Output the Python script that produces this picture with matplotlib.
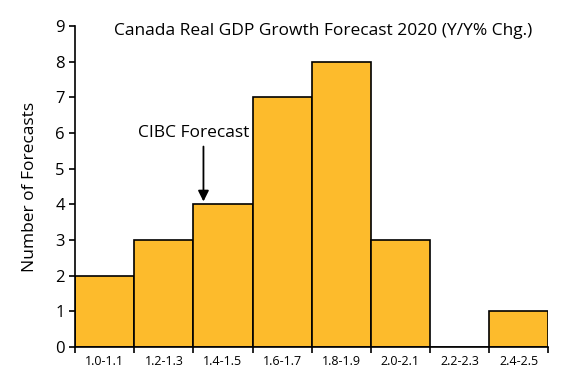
import numpy as np
import matplotlib.pyplot as plt

categories = ['1.0-1.1', '1.2-1.3', '1.4-1.5', '1.6-1.7', '1.8-1.9', '2.0-2.1', '2.2-2.3', '2.4-2.5']
counts = [2, 3, 4, 7, 8, 3, 0, 1]

plt.rcParams['font.family'] = ['Open Sans', 'DejaVu Sans']

fig = plt.figure(figsize=(5.61, 3.73), dpi=100)
ax = fig.add_axes([0.134, 0.0697, 0.843, 0.8606])

x = np.arange(len(categories))
ax.bar(x, counts, width=1.0, color='#FDBB2C', edgecolor='black', linewidth=1.2)

ax.set_xlim(-0.5, len(categories) - 0.5)
ax.set_ylim(0, 9)
ax.set_yticks(range(0, 10))
ax.tick_params(axis='y', labelsize=12, length=4, width=1.2, direction='out')

# ticks at bar edges, labels centred under bars
ax.set_xticks(np.arange(-0.5, len(categories)), minor=False)
ax.set_xticklabels([])
ax.set_xticks(x, minor=True)
ax.set_xticklabels(categories, minor=True, fontsize=9)
ax.tick_params(axis='x', which='major', length=4, width=1.2, direction='out')
ax.tick_params(axis='x', which='minor', length=0, pad=6)

for s in ['top', 'right']:
    ax.spines[s].set_visible(False)
for s in ['left', 'bottom']:
    ax.spines[s].set_linewidth(1.2)

ax.set_ylabel('Number of Forecasts', fontsize=12.5, labelpad=12)
ax.text(0.525, 0.985, 'Canada Real GDP Growth Forecast 2020 (Y/Y% Chg.)',
        transform=ax.transAxes, ha='center', va='center', fontsize=12.5)

ax.text(1.5, 6.0, 'CIBC Forecast', ha='center', va='center', fontsize=12.5)
ax.annotate('', xy=(1.67, 4.08), xytext=(1.67, 5.62),
            arrowprops=dict(arrowstyle='-|>', color='black', lw=1.3,
                            mutation_scale=16, shrinkA=0, shrinkB=0))

fig.savefig('out.png', dpi=100)
